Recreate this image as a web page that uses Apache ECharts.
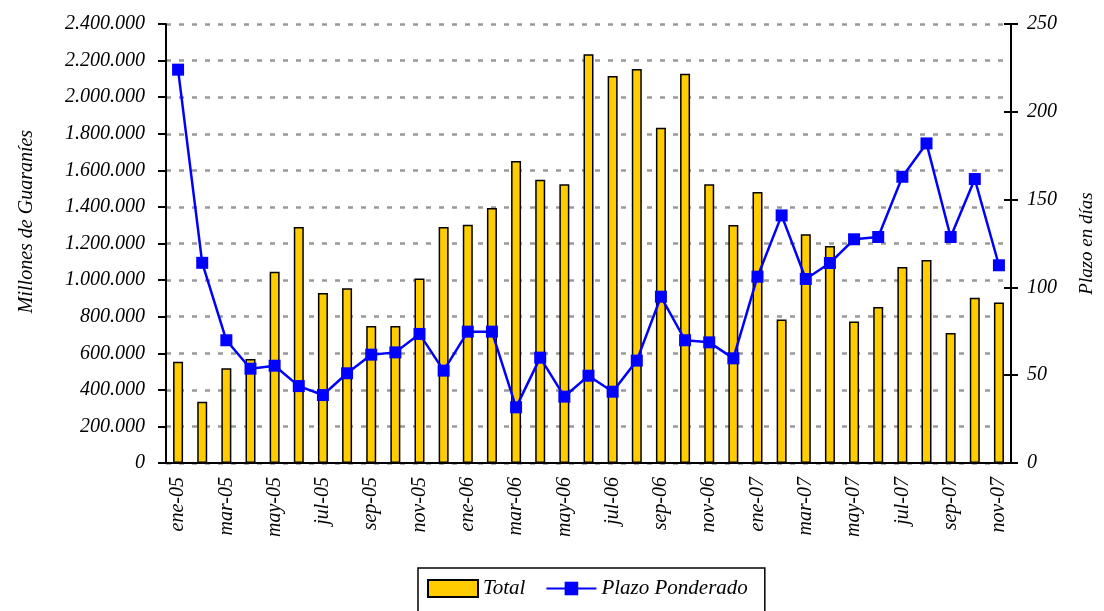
<!DOCTYPE html>
<html>
<head>
<meta charset="utf-8">
<script src="https://cdn.jsdelivr.net/npm/echarts@6/dist/echarts.min.js"></script>
<style>
  html, body { margin: 0; padding: 0; background: #fff; }
  #chart { width: 1104px; height: 611px; }
</style>
</head>
<body>
<div id="chart"></div>
<script>
var meses = ['ene-05','feb-05','mar-05','abr-05','may-05','jun-05','jul-05','ago-05','sep-05','oct-05','nov-05','dic-05',
  'ene-06','feb-06','mar-06','abr-06','may-06','jun-06','jul-06','ago-06','sep-06','oct-06','nov-06','dic-06',
  'ene-07','feb-07','mar-07','abr-07','may-07','jun-07','jul-07','ago-07','sep-07','oct-07','nov-07'];

// millones de guaranies
var total = [553000, 335000, 518000, 569000, 1046000, 1290000, 929000, 955000, 749000, 749000, 1008000, 1290000,
  1303000, 1394000, 1651000, 1549000, 1524000, 2234000, 2116000, 2154000, 1833000, 2128000, 1524000, 1301000,
  1482000, 785000, 1250000, 1186000, 773000, 853000, 1071000, 1110000, 711000, 904000, 878000];

// dias
var plazo = [224, 114, 69.9, 53.7, 55.4, 43.8, 38.7, 51.1, 61.7, 63.0, 73.5, 52.6,
  74.8, 74.8, 31.7, 60.0, 37.8, 49.7, 40.6, 58.3, 94.7, 69.9, 68.7, 59.6,
  106.1, 141, 104.8, 113.9, 127.4, 128.7, 163, 182, 128.7, 161.7, 112.6];

var serif = 'Liberation Serif';
var txt = { fontFamily: serif, fontStyle: 'italic', fontSize: 20, color: '#000' };

function puntos(v) {
  return String(v).replace(/\B(?=(\d{3})+(?!\d))/g, '.');
}

var chart = echarts.init(document.getElementById('chart'));

var negro = { color: '#000', width: 2 };

var option = {
  animation: false,
  grid: { left: 166, right: 82, top: 24, bottom: 148 },
  legend: {
    left: 418,
    top: 568,
    borderColor: '#000',
    borderWidth: 1.5,
    padding: [10, 17, 30, 9],
    itemWidth: 50,
    itemHeight: 17,
    itemGap: 20,
    textStyle: Object.assign({}, txt, { fontSize: 21 }),
    data: [
      { name: 'Total', icon: 'rect', itemStyle: { color: '#FFCC00', borderColor: '#000', borderWidth: 2 } },
      { name: 'Plazo Ponderado' }
    ]
  },
  xAxis: {
    type: 'category',
    data: meses,
    axisLine: { lineStyle: negro },
    axisTick: { interval: 0, length: 7, lineStyle: negro },
    axisLabel: Object.assign({ interval: 1, rotate: 90, margin: 14 }, txt)
  },
  yAxis: [{
    type: 'value',
    min: 0, max: 2400000, interval: 200000,
    name: 'Millones de Guaraníes',
    nameLocation: 'middle',
    nameRotate: 90,
    nameGap: 129,
    nameTextStyle: Object.assign({ padding: [0, 0, 0, 44] }, txt),
    axisLine: { show: true, lineStyle: negro },
    axisTick: { show: true, length: 8, lineStyle: negro },
    axisLabel: Object.assign({ margin: 21, formatter: puntos }, txt),
    splitLine: { lineStyle: { color: '#999', width: 2.5, type: [5, 8] } }
  }, {
    type: 'value',
    min: 0, max: 250, interval: 50,
    name: 'Plazo en días',
    nameLocation: 'middle',
    nameRotate: 90,
    nameGap: 66,
    nameTextStyle: Object.assign({}, txt, { fontSize: 19 }),
    axisLine: { show: true, lineStyle: negro },
    axisTick: { show: true, length: 7, lineStyle: negro },
    axisLabel: Object.assign({ margin: 16 }, txt),
    splitLine: { show: false }
  }, {
    // solo las marcas hacia adentro del eje derecho
    type: 'value',
    position: 'right',
    min: 0, max: 250, interval: 50,
    axisLine: { show: false },
    axisTick: { show: true, inside: true, length: 7, lineStyle: negro },
    axisLabel: { show: false },
    splitLine: { show: false }
  }],
  series: [{
    name: 'Total',
    type: 'bar',
    data: total,
    barWidth: 10,
    itemStyle: { color: '#FFCC00', borderColor: '#000', borderWidth: 1.5 }
  }, {
    name: 'Plazo Ponderado',
    type: 'line',
    yAxisIndex: 1,
    data: plazo,
    symbol: 'rect',
    symbolSize: 12,
    itemStyle: { color: '#0000FF' },
    lineStyle: { color: '#0000FF', width: 2.5 }
  }]
};

chart.setOption(option);
window.addEventListener('resize', chart.resize);
</script>
</body>
</html>
